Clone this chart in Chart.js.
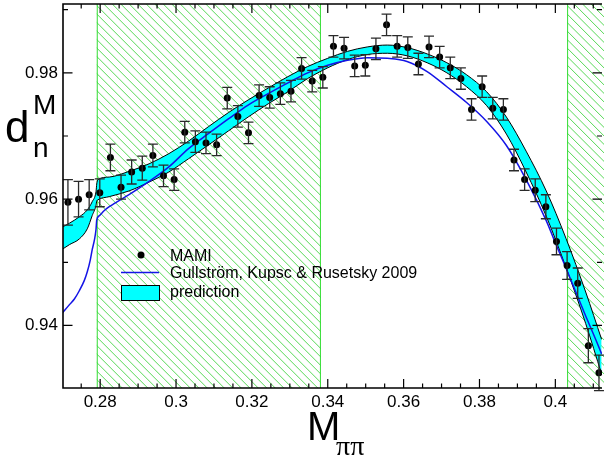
<!DOCTYPE html>
<html>
<head>
<meta charset="utf-8">
<title>d_n^M vs M_pipi</title>
<script src="https://cdn.jsdelivr.net/npm/chart.js@4.4.1/dist/chart.umd.min.js"></script>
<style>
  html, body { margin: 0; padding: 0; background: #fff; }
  #wrap { width: 606px; height: 461px; }
</style>
</head>
<body>
<div id="wrap"><canvas id="chart" width="606" height="461"></canvas></div>
<script>
// MAMI data points
const mamiX = [0.2715, 0.2743, 0.2771, 0.2799, 0.2827, 0.2855, 0.2883, 0.2911, 0.2939, 0.2967,
  0.2995, 0.3023, 0.3051, 0.3079, 0.3107, 0.3135, 0.3163, 0.3191, 0.3219, 0.3247,
  0.3275, 0.3303, 0.3331, 0.3359, 0.3387, 0.3415, 0.3443, 0.3471, 0.3499, 0.3527,
  0.3555, 0.3583, 0.3611, 0.3639, 0.3667, 0.3695, 0.3723, 0.3751, 0.3779, 0.3807,
  0.3835, 0.3863, 0.3891, 0.3919, 0.3947, 0.3975, 0.4003, 0.4031, 0.4059, 0.4087, 0.4115];
const mamiY = [0.9595, 0.9600, 0.9607, 0.9610, 0.9666, 0.9619, 0.9643, 0.9649, 0.9669, 0.9637,
  0.9631, 0.9706, 0.9691, 0.9689, 0.9686, 0.9760, 0.9731, 0.9705, 0.9764, 0.9761,
  0.9767, 0.9771, 0.9807, 0.9787, 0.9793, 0.9842, 0.9839, 0.9811, 0.9812, 0.9838,
  0.9876, 0.9842, 0.9840, 0.9814, 0.9841, 0.9825, 0.9808, 0.9791, 0.9742, 0.9778,
  0.9744, 0.9742, 0.9662, 0.9631, 0.9614, 0.9588, 0.9533, 0.9495, 0.9467, 0.9368, 0.9325];
const mamiErr = [0.0036, 0.0028, 0.0024, 0.0022, 0.0021, 0.0019, 0.0019, 0.0019, 0.0018, 0.0017,
  0.0017, 0.0017, 0.0017, 0.0017, 0.0017, 0.0017, 0.0017, 0.0017, 0.0017, 0.0017,
  0.0017, 0.0017, 0.0017, 0.0017, 0.0017, 0.0017, 0.0017, 0.0017, 0.0017, 0.0017,
  0.0017, 0.0017, 0.0017, 0.0017, 0.0017, 0.0017, 0.0017, 0.0017, 0.0017, 0.0017,
  0.0017, 0.0017, 0.0017, 0.0017, 0.0018, 0.0019, 0.0021, 0.0022, 0.0024, 0.0027, 0.0028];

// Gullstrom, Kupsc & Rusetsky 2009 curve
const curveX = [0.2701, 0.2719, 0.2732, 0.2745, 0.2758, 0.2766, 0.2774, 0.2779, 0.2785, 0.2789,
  0.2791, 0.2798, 0.2811, 0.2824, 0.2876, 0.2929, 0.2981, 0.3033, 0.3086, 0.3138,
  0.3190, 0.3243, 0.3295, 0.3347, 0.3400, 0.3452, 0.3504, 0.3557, 0.3609, 0.3662,
  0.3714, 0.3766, 0.3819, 0.3871, 0.3923, 0.3976, 0.4002, 0.4028, 0.4054, 0.4080, 0.4107, 0.4122];
const gkrY = [0.9420, 0.9433, 0.9442, 0.9455, 0.9471, 0.9485, 0.9504, 0.9520, 0.9536, 0.9552,
  0.9567, 0.9574, 0.9582, 0.9588, 0.9607, 0.9628, 0.9651, 0.9680, 0.9704, 0.9727,
  0.9749, 0.9767, 0.9784, 0.9800, 0.9812, 0.9820, 0.9824, 0.9823, 0.9818, 0.9802,
  0.9778, 0.9753, 0.9723, 0.9685, 0.9631, 0.9566, 0.9528, 0.9491, 0.9453, 0.9415, 0.9377, 0.9355];

// prediction band
const bandX = [0.2701, 0.2719, 0.2745, 0.2766, 0.2779, 0.2789, 0.2791, 0.2794, 0.2824, 0.2876,
  0.2929, 0.2981, 0.3033, 0.3086, 0.3138, 0.3190, 0.3243, 0.3295, 0.3347, 0.3400,
  0.3452, 0.3504, 0.3557, 0.3609, 0.3662, 0.3714, 0.3766, 0.3819, 0.3871, 0.3923,
  0.3976, 0.4028, 0.4080, 0.4122];
const bandHigh = [0.9556, 0.9562, 0.9572, 0.9583, 0.9596, 0.9612, 0.9624, 0.9631, 0.9635, 0.9644,
  0.9656, 0.9672, 0.9692, 0.9715, 0.9737, 0.9757, 0.9776, 0.9794, 0.9810, 0.9823,
  0.9834, 0.9841, 0.9844, 0.9840, 0.9830, 0.9816, 0.9797, 0.9770, 0.9730, 0.9676,
  0.9613, 0.9538, 0.9453, 0.9378];
const bandLow = [0.9521, 0.9528, 0.9537, 0.9553, 0.9574, 0.9590, 0.9597, 0.9599, 0.9604, 0.9613,
  0.9627, 0.9643, 0.9664, 0.9686, 0.9708, 0.9730, 0.9751, 0.9770, 0.9791, 0.9808,
  0.9821, 0.9829, 0.9831, 0.9827, 0.9816, 0.9800, 0.9778, 0.9748, 0.9703, 0.9643,
  0.9573, 0.9492, 0.9403, 0.9323];

// hatched (excluded) regions
const hatchStart = [0.2791, 0.4031];
const hatchEnd = [0.3382, 0.4200];

const xTicks = [0.28, 0.30, 0.32, 0.34, 0.36, 0.38, 0.40];
const xTickLabels = ["0.28", "0.3", "0.32", "0.34", "0.36", "0.38", "0.4"];
const yTicks = [0.94, 0.96, 0.98];
const yTickLabels = ["0.94", "0.96", "0.98"];

const FONT = "'Liberation Sans', Arial, Helvetica, sans-serif";
const SERIF = "'Liberation Serif', 'Times New Roman', serif";

function pts(xs, ys) {
  return xs.map((x, i) => ({ x: x, y: ys[i] }));
}

const hatchPlugin = {
  id: "hatch",
  beforeDatasetsDraw(chart) {
    const { ctx, chartArea: a, scales: { x } } = chart;
    ctx.save();
    for (let r = 0; r < hatchStart.length; r++) {
      const x0 = Math.max(x.getPixelForValue(hatchStart[r]), a.left);
      const x1 = Math.min(x.getPixelForValue(hatchEnd[r]), a.right + 2);
      const h = a.bottom - a.top;
      ctx.save();
      ctx.beginPath();
      ctx.rect(x0, a.top, x1 - x0, h);
      ctx.clip();
      ctx.strokeStyle = "#58d858";
      ctx.lineWidth = 1;
      ctx.beginPath();
      for (let px = x0 - h; px < x1; px += 8.5) {
        ctx.moveTo(px, a.top);
        ctx.lineTo(px + h, a.bottom);
      }
      ctx.stroke();
      ctx.restore();
      ctx.strokeStyle = "#33dd33";
      ctx.lineWidth = 1;
      ctx.beginPath();
      ctx.moveTo(x0 + 0.5, a.top);
      ctx.lineTo(x0 + 0.5, a.bottom);
      if (x1 < a.right) {
        ctx.moveTo(x1 - 0.5, a.top);
        ctx.lineTo(x1 - 0.5, a.bottom);
      }
      ctx.stroke();
    }
    ctx.restore();
  },
};

const errorBarPlugin = {
  id: "errorBars",
  afterDatasetsDraw(chart) {
    const { ctx, scales: { y } } = chart;
    const meta = chart.getDatasetMeta(0);
    ctx.save();
    ctx.strokeStyle = "#2a2a2a";
    ctx.lineWidth = 1.3;
    ctx.beginPath();
    meta.data.forEach((p, i) => {
      const top = y.getPixelForValue(mamiY[i] + mamiErr[i]);
      const bot = y.getPixelForValue(mamiY[i] - mamiErr[i]);
      ctx.moveTo(p.x, top);
      ctx.lineTo(p.x, bot);
      ctx.moveTo(p.x - 5, top);
      ctx.lineTo(p.x + 5, top);
      ctx.moveTo(p.x - 5, bot);
      ctx.lineTo(p.x + 5, bot);
    });
    ctx.stroke();
    ctx.restore();
  },
};

const framePlugin = {
  id: "frame",
  afterDraw(chart) {
    const { ctx, chartArea: a, scales: { x, y } } = chart;
    ctx.save();
    ctx.strokeStyle = "#000";
    ctx.lineWidth = 1.6;
    ctx.beginPath();
    ctx.moveTo(a.right, a.top);
    ctx.lineTo(a.left, a.top);
    ctx.lineTo(a.left, a.bottom);
    ctx.lineTo(a.right, a.bottom);
    ctx.stroke();

    ctx.lineWidth = 1.2;
    ctx.beginPath();
    for (let i = 54; i <= 83; i++) {
      const v = i * 0.005;
      if (v < x.min || v > x.max) continue;
      const px = x.getPixelForValue(v);
      const len = i % 4 === 0 ? 9 : 4.5;
      ctx.moveTo(px, a.bottom);
      ctx.lineTo(px, a.bottom - len);
      ctx.moveTo(px, a.top);
      ctx.lineTo(px, a.top + len);
    }
    for (let i = 93; i <= 99; i++) {
      const v = i * 0.01;
      if (v < y.min || v > y.max) continue;
      const py = y.getPixelForValue(v);
      const len = i % 2 === 0 ? 9.5 : 5;
      ctx.moveTo(a.left, py);
      ctx.lineTo(a.left + len, py);
      ctx.moveTo(a.right, py);
      ctx.lineTo(a.right - len, py);
    }
    ctx.stroke();

    // axis titles
    ctx.fillStyle = "#000";
    ctx.textBaseline = "alphabetic";
    ctx.textAlign = "left";
    ctx.font = "44px " + FONT;
    ctx.fillText("d", 5, 142);
    ctx.font = "28px " + FONT;
    ctx.fillText("M", 33, 114);
    ctx.fillText("n", 33, 157);
    ctx.font = "40px " + FONT;
    ctx.fillText("M", 307, 440);
    ctx.font = "28px " + SERIF;
    ctx.fillText("\u03c0\u03c0", 336, 455);

    // legend
    const lx = a.left + 58;
    ctx.beginPath();
    ctx.arc(lx + 20, 255, 3.5, 0, Math.PI * 2);
    ctx.fill();
    ctx.strokeStyle = "#1414e6";
    ctx.lineWidth = 1.5;
    ctx.beginPath();
    ctx.moveTo(lx, 272.5);
    ctx.lineTo(lx + 38, 272.5);
    ctx.stroke();
    ctx.fillStyle = "#00ffff";
    ctx.fillRect(lx, 285, 38, 15);
    ctx.strokeStyle = "#000";
    ctx.lineWidth = 1;
    ctx.strokeRect(lx + 0.5, 285.5, 38, 15);
    ctx.fillStyle = "#000";
    ctx.font = "16px " + FONT;
    ctx.fillText("MAMI", lx + 49, 260.5);
    ctx.fillText("Gullstr\u00f6m, Kupsc & Rusetsky 2009", lx + 49, 278);
    ctx.fillText("prediction", lx + 49, 296.5);
    ctx.restore();
  },
};

new Chart(document.getElementById("chart"), {
  type: "line",
  data: {
    datasets: [
      {
        label: "MAMI",
        data: pts(mamiX, mamiY),
        showLine: false,
        pointRadius: 3.5,
        pointBackgroundColor: "#000",
        pointBorderWidth: 0,
        order: 0,
      },
      {
        label: "Gullstr\u00f6m, Kupsc & Rusetsky 2009",
        data: pts(curveX, gkrY),
        borderColor: "#1414e6",
        borderWidth: 1.5,
        pointRadius: 0,
        fill: false,
        cubicInterpolationMode: "monotone",
        order: 1,
      },
      {
        label: "prediction",
        data: pts(bandX, bandHigh),
        borderColor: "#000",
        borderWidth: 1,
        backgroundColor: "#00ffff",
        fill: "+1",
        pointRadius: 0,
        cubicInterpolationMode: "monotone",
        order: 3,
      },
      {
        label: "prediction (lower)",
        data: pts(bandX, bandLow),
        borderColor: "#000",
        borderWidth: 1,
        fill: false,
        pointRadius: 0,
        cubicInterpolationMode: "monotone",
        order: 2,
      },
    ],
  },
  options: {
    responsive: false,
    animation: false,
    devicePixelRatio: 1,
    layout: { padding: { top: 4, right: 0, left: 0, bottom: 0 } },
    plugins: { legend: { display: false }, tooltip: { enabled: false } },
    scales: {
      x: {
        type: "linear",
        min: 0.2702,
        max: 0.4123,
        grid: { display: false, drawTicks: false },
        border: { display: false },
        afterBuildTicks: (s) => { s.ticks = xTicks.map((v) => ({ value: v })); },
        afterFit: (s) => { s.height = 73; s.paddingLeft = 0; s.paddingRight = 0; },
        ticks: {
          callback: (v, i) => xTickLabels[i],
          font: { family: FONT, size: 17 },
          color: "#000",
          padding: 4,
          maxRotation: 0,
          autoSkip: false,
        },
      },
      y: {
        type: "linear",
        min: 0.9301,
        max: 0.9909,
        grid: { display: false, drawTicks: false },
        border: { display: false },
        afterBuildTicks: (s) => { s.ticks = yTicks.map((v) => ({ value: v })); },
        afterFit: (s) => { s.width = 63; s.paddingTop = 0; s.paddingBottom = 0; },
        ticks: {
          callback: (v, i) => yTickLabels[i],
          font: { family: FONT, size: 17 },
          color: "#000",
          padding: 5,
          autoSkip: false,
        },
      },
    },
  },
  plugins: [hatchPlugin, errorBarPlugin, framePlugin],
});
</script>
</body>
</html>
